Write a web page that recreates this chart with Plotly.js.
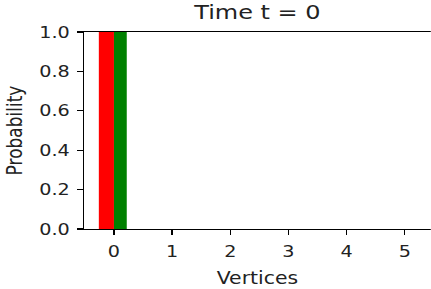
<!DOCTYPE html>
<html>
<head>
<meta charset="utf-8">
<script src="https://cdn.plot.ly/plotly-3.0.1.min.js"></script>
<style>
  html, body { margin: 0; padding: 0; overflow: hidden; background: #fff; width: 431px; height: 289px; }
  #chart { width: 359px; height: 289px; transform: scaleX(1.2); transform-origin: 0 0; }
</style>
</head>
<body>
<div id="chart"></div>
<script>
// Data
const vertices = [0, 1, 2, 3, 4, 5];
const probRed = [1, 0, 0, 0, 0, 0];
const probGreen = [1, 0, 0, 0, 0, 0];
const yTicks = [0, 0.2, 0.4, 0.6, 0.8, 1.0];
const titleText = 'Time t = 0';
const xLabel = 'Vertices';
const yLabel = 'Probability';

const font = 'DejaVu Sans, sans-serif';
const traces = [
  { type: 'bar', x: vertices, y: probRed, width: 0.26, offset: -0.26,
    marker: { color: '#ff0000', line: { width: 0 } }, hoverinfo: 'skip' },
  { type: 'bar', x: vertices, y: probGreen, width: 0.22, offset: 0,
    marker: { color: '#008000', line: { width: 0 } }, hoverinfo: 'skip' }
];

const layout = {
  width: 359, height: 289,
  margin: { l: 70, r: 0, t: 32, b: 60, pad: 0 },
  paper_bgcolor: '#fff', plot_bgcolor: '#fff',
  showlegend: false,
  barmode: 'overlay',
  font: { family: font, color: '#222' },
  title: { text: titleText, font: { size: 20, family: font, color: '#222' },
           x: 0.5, xref: 'paper', y: 0.958, yref: 'container', yanchor: 'middle' },
  xaxis: {
    range: [-0.515, 5.447], tickmode: 'array', tickvals: vertices, ticktext: vertices.map(String),
    showgrid: false, zeroline: false, showline: true, linecolor: '#000', linewidth: 1.2,
    mirror: true, ticks: 'outside', ticklen: 5, tickwidth: 1.1, tickcolor: '#000',
    ticklabelstandoff: 3,
    tickfont: { size: 16, family: font, color: '#222' },
    title: { text: xLabel, font: { size: 17, family: font, color: '#222' }, standoff: 11 },
    automargin: false, fixedrange: true
  },
  yaxis: {
    range: [0, 1], tickmode: 'array', tickvals: yTicks, tickformat: '.1f',
    showgrid: false, zeroline: false, showline: true, linecolor: '#000', linewidth: 1.2,
    mirror: false, ticks: 'outside', ticklen: 4.5, tickwidth: 1.1, tickcolor: '#000',
    ticklabelstandoff: 3,
    tickfont: { size: 16, family: font, color: '#222' },
    title: { text: yLabel, font: { size: 17, family: font, color: '#222' }, standoff: 9 },
    automargin: false, fixedrange: true
  }
};

Plotly.newPlot('chart', traces, layout, { displayModeBar: false, staticPlot: true });
</script>
</body>
</html>
